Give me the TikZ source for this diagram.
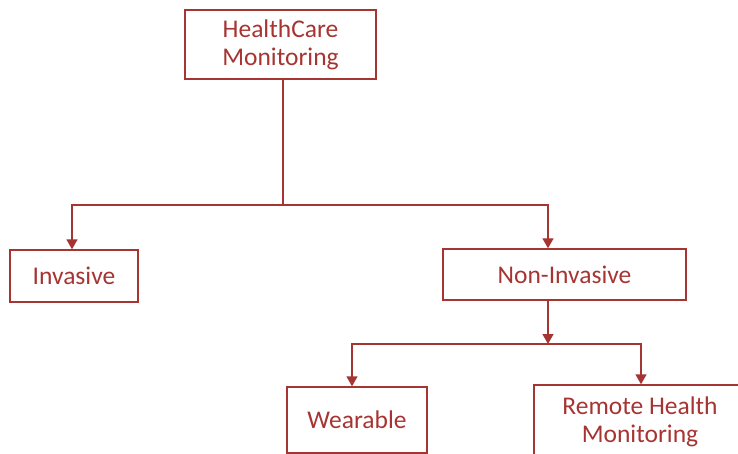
\documentclass[tikz,border=0pt]{standalone}
\usepackage{fontspec}
\setmainfont{Carlito}
\usetikzlibrary{arrows.meta,positioning}
\definecolor{boxred}{RGB}{166,52,50}
\tikzset{
  box/.style={draw=boxred, line width=1.4pt, rectangle, text=boxred, align=center,
    inner sep=0pt, font=\fontsize{25.5}{28}\selectfont},
  link/.style={draw=boxred, line width=1.4pt},
  arr/.style={link, -{Triangle[width=11pt,length=10pt]}}
}
\begin{document}
\begin{tikzpicture}[x=1pt, y=-1pt]
        \useasboundingbox (0,0) rectangle (738,454);
        \clip (0,0) rectangle (738,454);
        % Top box
        \node[box, minimum width=191pt, minimum height=69pt] (hc) at (280.5,44.5) {HealthCare\\Monitoring};
        
        % First level
        \node[box, minimum width=128pt, minimum height=52pt] (inv) at (74,276) {Invasive};
        \node[box, minimum width=243pt, minimum height=51pt] (noninv) at (564.5,274.5) {Non-Invasive};
        
        % Second level
        \node[box, minimum width=140pt, minimum height=66pt] (wear) at (357,420) {Wearable};
        \node[box, minimum width=212pt, minimum height=74pt] (remote) at (640,422) {Remote Health\\Monitoring};
        
        % Split points
        \coordinate (split1) at (283,205);
        \coordinate (split2) at (548,344);
        
        % Arrows
        \draw[link] (split1 |- hc.south) -- (split1);
        \draw[arr] (split1) -| ([xshift=-2pt]inv.north);
        \draw[arr] (split1) -| (split2 |- noninv.north);
        \draw[arr] (split2 |- noninv.south) -- (split2);
        \draw[arr] (split2) -| ([xshift=-5pt]wear.north);
        \draw[arr] (split2) -| ([xshift=1pt]remote.north);
    \end{tikzpicture}
\end{document}
